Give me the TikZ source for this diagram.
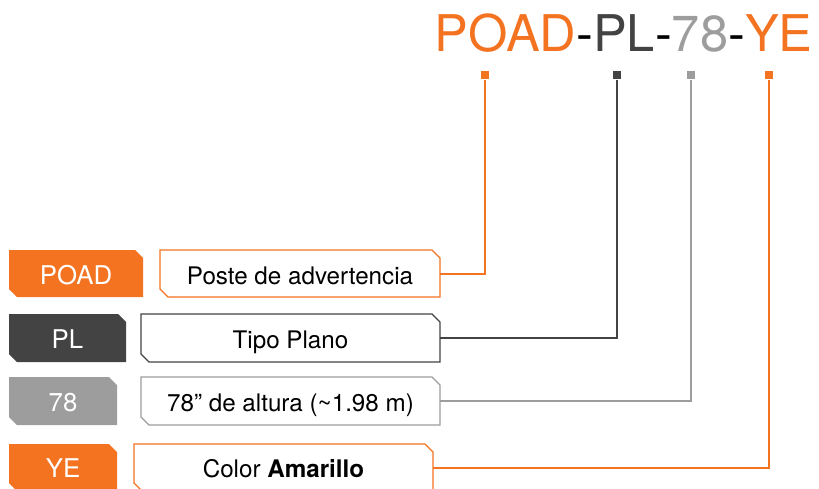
\documentclass[tikz,border=0pt]{standalone}
\usepackage{fontspec}
\setmainfont{TeX Gyre Heros}
\definecolor{orng}{HTML}{F37321}
\definecolor{dgray}{HTML}{434343}
\definecolor{lgray}{HTML}{9D9D9D}
\newcommand{\cutbox}[5]{%
  \path[#5] (#1,#2) -- (#3-8,#2) -- (#3,#2+8) -- (#3,#4) -- (#1+8,#4) -- (#1,#4-8) -- cycle;}
\tikzset{
  codetext/.style={anchor=base, inner sep=0, text=white, font=\fontsize{25.8}{30}\selectfont},
  desctext/.style={anchor=base, inner sep=0, text=black, font=\fontsize{24.2}{28}\selectfont},
  marker/.style={minimum size=8pt, inner sep=0, draw=none},
  conn/.style={line width=1.3pt},
  outl/.style={line width=1.3pt, fill=white}
}
\begin{document}
\begin{tikzpicture}[x=1pt,y=-1pt]
\useasboundingbox (0,0) rectangle (819,489);
% title
\node[anchor=base west, inner sep=0, font=\fontsize{50.6}{60}\selectfont] (title) at (434.5,52)
  {\textcolor{orng}{POAD}-\textcolor{dgray}{PL}-\textcolor{lgray}{78}-\textcolor{orng}{YE}};
% markers
\node[marker, fill=orng] (m1) at (485,75.5) {};
\node[marker, fill=dgray] (m2) at (617,75.5) {};
\node[marker, fill=lgray] (m3) at (691,75.5) {};
\node[marker, fill=orng] (m4) at (769,75.5) {};
% row 1
\cutbox{9}{250}{143}{297}{fill=orng}
\cutbox{160}{250}{440}{297}{outl, draw=orng}
\node[codetext] (c1) at (76,284) {POAD};
\node[desctext] (d1) at (300,284) {Poste de advertencia};
\coordinate (e1) at (440,274);
% row 2
\cutbox{9}{314}{126}{362}{fill=dgray}
\cutbox{141}{314}{440}{362}{outl, draw=dgray}
\node[codetext] (c2) at (67.5,348) {PL};
\node[desctext] (d2) at (290.5,348) {Tipo Plano};
\coordinate (e2) at (440,338);
% row 3
\cutbox{9}{377}{117}{425}{fill=lgray}
\cutbox{141}{377}{440}{425}{outl, draw=lgray}
\node[codetext] (c3) at (63,411) {78};
\node[desctext] (d3) at (290.5,411) {78” de altura (\textasciitilde1.98 m)};
\coordinate (e3) at (440,401);
% row 4
\cutbox{9}{444}{117}{491}{fill=orng}
\cutbox{134}{444}{433}{491}{outl, draw=orng}
\node[codetext] (c4) at (63,477) {YE};
\node[desctext] (d4) at (283.5,477) {Color \textbf{Amarillo}};
\coordinate (e4) at (433,468);
% connectors
\draw[conn, orng] (e1) -| (m1.south);
\draw[conn, dgray] (e2) -| (m2.south);
\draw[conn, lgray] (e3) -| (m3.south);
\draw[conn, orng] (e4) -| (m4.south);
\end{tikzpicture}
\end{document}
